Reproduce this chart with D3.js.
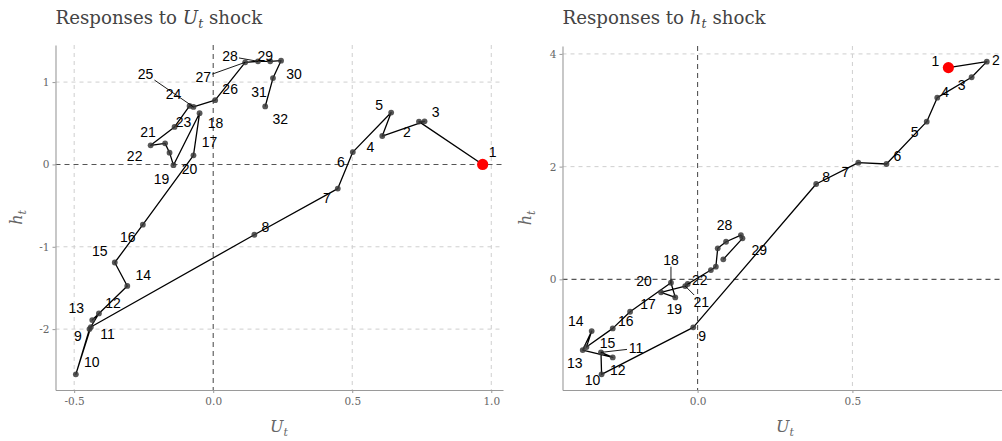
<!DOCTYPE html>
<html><head><meta charset="utf-8">
<script src="https://cdn.jsdelivr.net/npm/d3@7"></script>
<style>body{margin:0;background:#fff}svg{display:block}</style>
</head><body><svg id="c" width="1002" height="441"></svg>
<script>
// ---------- data ----------
const uStep = ["1","2","3","4","5","6","7","8","9","10","11","12","13","14","15","16","17","18","19","20","21","22","23","24","25","26","27","28","29","30","31","32"];
const uShockU = [0.969,0.740,0.760,0.608,0.640,0.502,0.448,0.148,-0.440,-0.494,-0.445,-0.411,-0.435,-0.309,-0.354,-0.253,-0.071,-0.049,-0.143,-0.157,-0.173,-0.225,-0.139,-0.085,-0.071,0.007,0.115,0.161,0.205,0.244,0.215,0.187];
const uShockH = [0.000,0.520,0.524,0.345,0.630,0.150,-0.293,-0.854,-1.975,-2.549,-2.000,-1.810,-1.890,-1.476,-1.191,-0.732,0.110,0.622,-0.009,0.143,0.256,0.232,0.455,0.711,0.699,0.780,1.240,1.252,1.252,1.260,1.049,0.704];

const hStep = ["1","2","3","4","5","6","7","8","9","10","11","12","13","14","15","16","17","18","19","20","21","22","23","24","25","26","27","28","29"];
const hShockU = [0.810,0.934,0.885,0.774,0.740,0.610,0.519,0.383,-0.014,-0.310,-0.312,-0.274,-0.371,-0.342,-0.359,-0.274,-0.218,-0.086,-0.072,-0.118,-0.040,-0.032,0.043,0.059,0.065,0.092,0.140,0.145,0.083];
const hShockH = [3.757,3.863,3.586,3.224,2.798,2.047,2.070,1.692,-0.852,-1.686,-1.296,-1.385,-1.255,-0.918,-1.202,-0.870,-0.575,-0.060,-0.320,-0.231,-0.119,-0.083,0.165,0.224,0.550,0.667,0.786,0.728,0.355];

const leftXTicks = [-0.5, 0.0, 0.5, 1.0];
const leftYTicks = [-2, -1, 0, 1];
const rightXTicks = [0.0, 0.5];
const rightYTicks = [0, 2, 4];

const titleLeft = ["Responses to ", "U", "t", " shock"];
const titleRight = ["Responses to ", "h", "t", " shock"];
const xTitle = ["U", "t"];
const yTitle = ["h", "t"];

// ---------- layout (label placement offsets, px) ----------
const leftLabelOffsets = [[10,-12],[-12,10],[11,-9],[-12,11],[-12,-8],[-12,10],[-11,9],[11,-8],[-13,9],[16,-12],[18,5],[14,-10],[-16,-12],[16,-11],[-15,-11],[-15,12],[16,-13],[16,10],[-12,14],[20,16],[-17,-11],[-16,11],[9,-5],[-16,-12],[-48,-33],[15,-11],[-42,15],[-28,-5],[-5,-5],[13,13],[-14,14],[15,13]];
const leftSegments = [25,27,28];
const rightLabelOffsets = [[-13,-7],[9,-2],[-10,8],[8,-6],[-12,10],[11,-8],[-13,9],[10,-7],[9,9],[-9,6],[35,-4],[5,13],[-8,13],[-16,-10],[21,-4],[13,-7],[18,-8],[0,-23],[-1,12],[-17,-11],[16,16],[12,-4],null,null,null,null,null,[-18,-13],[36,-9]];
const rightSegments = [11,18,21,22];

const serif = "'DejaVu Serif', serif";
const sans = "'Liberation Sans', Arial, sans-serif";
const svg = d3.select("#c");

function expand(ext){ const r = ext[1]-ext[0]; return [ext[0]-0.05*r, ext[1]+0.05*r]; }

function drawPanel(o){
  const g = svg.append("g");
  const x = d3.scaleLinear().domain(expand(d3.extent(o.u))).range([o.x0, o.x1]);
  const y = d3.scaleLinear().domain(expand(d3.extent(o.h))).range([o.y1, o.y0]);

  // grid
  const gridX = o.xt.filter(v=>v!==0), gridY = o.yt.filter(v=>v!==0);
  g.selectAll(".gx").data(gridX).join("line")
    .attr("x1",d=>x(d)).attr("x2",d=>x(d)).attr("y1",o.y0).attr("y2",o.y1)
    .attr("stroke","#cfcfcf").attr("stroke-width",1).attr("stroke-dasharray","4,4");
  g.selectAll(".gy").data(gridY).join("line")
    .attr("x1",o.x0).attr("x2",o.x1).attr("y1",d=>y(d)).attr("y2",d=>y(d))
    .attr("stroke","#cfcfcf").attr("stroke-width",1).attr("stroke-dasharray","4,4");
  // zero lines
  g.append("line").attr("x1",x(0)).attr("x2",x(0)).attr("y1",o.y0).attr("y2",o.y1)
    .attr("stroke","#555").attr("stroke-width",1.1).attr("stroke-dasharray","5,4");
  g.append("line").attr("x1",o.x0).attr("x2",o.x1).attr("y1",y(0)).attr("y2",y(0))
    .attr("stroke","#555").attr("stroke-width",1.1).attr("stroke-dasharray","5,4");

  // axes
  const ax = g.append("g").attr("transform",`translate(0,${o.y1})`)
    .call(d3.axisBottom(x).tickValues(o.xt).tickFormat(d3.format(".1f")).tickSize(3).tickSizeOuter(0).tickPadding(5));
  const ay = g.append("g").attr("transform",`translate(${o.x0},0)`)
    .call(d3.axisLeft(y).tickValues(o.yt).tickFormat(d3.format("d")).tickSize(3).tickSizeOuter(0).tickPadding(3));
  [ax,ay].forEach(a=>{
    a.select(".domain").attr("stroke","#9a9a9a").attr("stroke-width",1.1);
    a.selectAll(".tick line").attr("stroke","#9a9a9a");
    a.selectAll(".tick text").attr("fill","#666").attr("font-family",serif).attr("font-size",10.5)
      .text(function(){ return this.textContent.replace("−","-"); });
  });

  // path
  const pts = o.u.map((d,i)=>[x(d), y(o.h[i])]);
  g.append("path").attr("d", d3.line()(pts)).attr("fill","none").attr("stroke","#000").attr("stroke-width",1.3).attr("stroke-linejoin","round");

  // points
  g.selectAll(".pt").data(pts.slice(1)).join("circle")
    .attr("cx",d=>d[0]).attr("cy",d=>d[1]).attr("r",2.9).attr("fill","#3a3a3a").attr("fill-opacity",0.85);
  g.append("circle").attr("cx",pts[0][0]).attr("cy",pts[0][1]).attr("r",5.6).attr("fill","#ff0000");

  // labels
  o.steps.forEach((s,i)=>{
    const off = o.offsets[i]; if(!off) return;
    const lx = pts[i][0]+off[0], ly = pts[i][1]+off[1];
    if(o.segs.includes(i+1)){
      const w = s.length*8/2+1, hgt = 7;
      const dx = pts[i][0]-lx, dy = pts[i][1]-ly;
      const t = Math.min(Math.abs(dx)>0? w/Math.abs(dx):1e9, Math.abs(dy)>0? hgt/Math.abs(dy):1e9);
      g.append("line").attr("x1",lx+dx*Math.min(t,1)).attr("y1",ly+dy*Math.min(t,1))
        .attr("x2",pts[i][0]).attr("y2",pts[i][1]).attr("stroke","#000").attr("stroke-width",0.9);
    }
    g.append("text").attr("x",lx).attr("y",ly).attr("text-anchor","middle").attr("dominant-baseline","central")
      .attr("font-family",sans).attr("font-size",14).attr("fill","#000").text(s);
  });

  // title
  const tt = svg.append("text").attr("x",o.x0).attr("y",24).attr("font-family",serif).attr("font-size",18.2).attr("fill","#444");
  tt.append("tspan").text(o.title[0]);
  tt.append("tspan").attr("font-style","italic").text(o.title[1]);
  tt.append("tspan").attr("font-style","italic").attr("font-size",12.5).attr("dy",4).text(o.title[2]);
  tt.append("tspan").attr("dy",-4).text(o.title[3]);

  // x title
  const xtEl = svg.append("text").attr("x",o.xCenter).attr("y",432).attr("text-anchor","middle")
    .attr("font-family",serif).attr("font-size",16).attr("fill","#666").attr("font-style","italic");
  xtEl.append("tspan").text(xTitle[0]);
  xtEl.append("tspan").attr("font-size",11).attr("dy",4).text(xTitle[1]);

  // y title
  const ytEl = svg.append("text").attr("transform",`translate(${o.yTitleX},${(o.y0+o.y1)/2}) rotate(-90)`).attr("text-anchor","middle")
    .attr("font-family",serif).attr("font-size",16).attr("fill","#666").attr("font-style","italic");
  ytEl.append("tspan").text(yTitle[0]);
  ytEl.append("tspan").attr("font-size",11).attr("dy",4).text(yTitle[1]);
}

drawPanel({u:uShockU, h:uShockH, steps:uStep, xt:leftXTicks, yt:leftYTicks, x0:55.5, x1:503, y0:45, y1:390,
  offsets:leftLabelOffsets, segs:leftSegments, title:titleLeft, yTitleX:22, xCenter:279});
drawPanel({u:hShockU, h:hShockH, steps:hStep, xt:rightXTicks, yt:rightYTicks, x0:562.5, x1:1007, y0:46, y1:390,
  offsets:rightLabelOffsets, segs:rightSegments, title:titleRight, yTitleX:531, xCenter:785});
</script></body></html>
